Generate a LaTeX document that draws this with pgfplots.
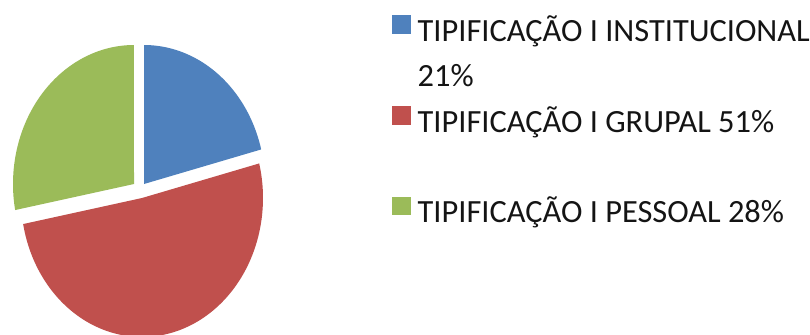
\documentclass[border=0pt]{standalone}
\usepackage{fontspec}
\setmainfont{Carlito}
\usepackage{pgfplots}
\pgfplotsset{compat=1.18}

\definecolor{pieblue}{RGB}{79,129,189}
\definecolor{piered}{RGB}{192,80,77}
\definecolor{piegreen}{RGB}{155,187,89}
\definecolor{legtext}{RGB}{20,20,20}

% shares in percent
\def\shareInst{21}
\def\shareGrup{51}
\def\sharePess{28}

% pie radii (the pie is drawn slightly taller than wide)
\def\rx{121}
\def\ry{139}

\begin{document}
\begin{tikzpicture}
\pgfmathsetmacro{\aA}{\shareInst*3.6}
\pgfmathsetmacro{\aB}{\aA+\shareGrup*3.6}
\pgfmathsetmacro{\aC}{\aB+\sharePess*3.6}
\begin{axis}[
  scale only axis,
  width=810bp, height=334bp,
  xmin=0, xmax=810, ymin=0, ymax=334,
  y dir=reverse,
  hide axis,
  legend cell align=left,
  legend image code/.code={\fill[#1] (0bp,0bp) rectangle (18.7bp,18.7bp);},
  legend style={
    at={(axis cs:392,11.5)}, anchor=north west,
    draw=none, fill=none, inner sep=0pt, outer sep=0pt,
    row sep=0pt, column sep=7bp,
    nodes={inner sep=0pt, text height=30bp, text depth=15.3bp,
           font=\fontsize{32.4bp}{38bp}\selectfont, text=legtext},
  },
]
% slices, each pulled a little away from the centre
\addplot[fill=pieblue, draw=none, domain=0:\aA, samples=60]
  ({144+\rx*sin(x)}, {184-\ry*cos(x)}) -- (axis cs:144,184) -- cycle;
\addlegendentry{TIPIFICAÇÃO I INSTITUCIONAL}
\addlegendimage{empty legend}
\addlegendentry{21\%}
\addplot[fill=piered, draw=none, domain=\aA:\aB, samples=120]
  ({142+\rx*sin(x)}, {198-\ry*cos(x)}) -- (axis cs:142,198) -- cycle;
\addlegendentry{TIPIFICAÇÃO I GRUPAL 51\%}
\addlegendimage{empty legend}
\addlegendentry{}
\addplot[fill=piegreen, draw=none, domain=\aB:\aC, samples=70]
  ({134+\rx*sin(x)}, {184-\ry*cos(x)}) -- (axis cs:134,184) -- cycle;
\addlegendentry{TIPIFICAÇÃO I PESSOAL 28\%}
\end{axis}
\pgfresetboundingbox
\useasboundingbox (current axis.south west) rectangle (current axis.north east);
\end{tikzpicture}
\end{document}
